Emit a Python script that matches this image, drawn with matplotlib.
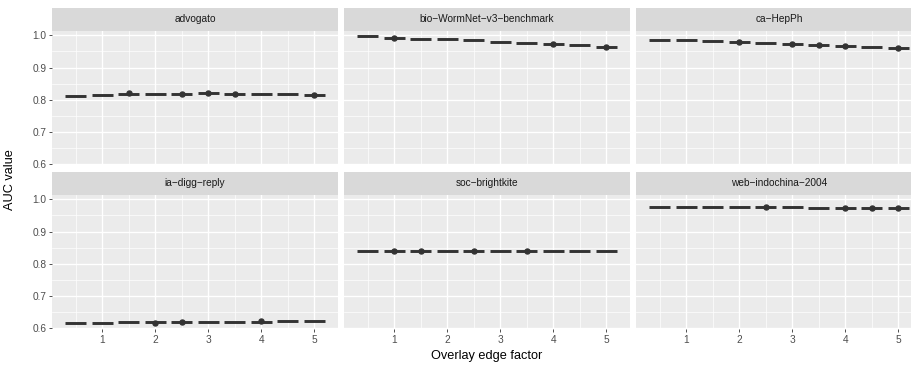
import matplotlib
matplotlib.use("Agg")
import matplotlib.pyplot as plt

plt.rcParams['font.family'] = ['Liberation Sans', 'DejaVu Sans']

# overlay edge factor positions (one box per position)
factors = [0.5, 1.0, 1.5, 2.0, 2.5, 3.0, 3.5, 4.0, 4.5, 5.0]

datasets = ['advogato', 'bio\u2212WormNet\u2212v3\u2212benchmark', 'ca\u2212HepPh',
            'ia\u2212digg\u2212reply', 'soc\u2212brightkite', 'web\u2212indochina\u22122004']

# median AUC per factor
advogato = [0.813, 0.815, 0.818, 0.818, 0.818, 0.820, 0.818, 0.818, 0.817, 0.815]
wormnet = [0.997, 0.993, 0.990, 0.987, 0.984, 0.980, 0.977, 0.974, 0.970, 0.965]
hepph = [0.986, 0.984, 0.981, 0.978, 0.976, 0.973, 0.970, 0.968, 0.965, 0.962]
digg = [0.616, 0.617, 0.618, 0.618, 0.619, 0.620, 0.620, 0.620, 0.621, 0.622]
brightkite = [0.838, 0.838, 0.839, 0.839, 0.839, 0.839, 0.839, 0.840, 0.840, 0.840]
indochina = [0.976, 0.976, 0.976, 0.976, 0.975, 0.975, 0.974, 0.973, 0.973, 0.972]
medians = [advogato, wormnet, hepph, digg, brightkite, indochina]

# outlier points (factor, AUC)
out_advogato = ([1.5, 2.5, 3.0, 3.5, 5.0], [0.820, 0.817, 0.820, 0.817, 0.814])
out_wormnet = ([1.0, 4.0, 5.0], [0.993, 0.973, 0.964])
out_hepph = ([2.0, 3.0, 3.5, 4.0, 5.0], [0.978, 0.972, 0.969, 0.967, 0.961])
out_digg = ([2.0, 2.5, 4.0], [0.617, 0.620, 0.621])
out_brightkite = ([1.0, 1.5, 2.5, 3.5], [0.838, 0.838, 0.839, 0.839])
out_indochina = ([2.5, 4.0, 4.5, 5.0], [0.975, 0.972, 0.973, 0.972])
outliers = [out_advogato, out_wormnet, out_hepph, out_digg, out_brightkite, out_indochina]

W, H = 912, 369
fig = plt.figure(figsize=(W / 100, H / 100), dpi=100)

col_x = [52, 344, 636]
pw, ph = 286, 134
row_top = [31, 195]
strip_h = 23.5

for i, name in enumerate(datasets):
    r, c = divmod(i, 3)
    x0 = col_x[c]
    y0 = row_top[r]
    ax = fig.add_axes([x0 / W, (H - y0 - ph) / H, pw / W, ph / H])
    ax.set_facecolor('#EBEBEB')
    for s in ax.spines.values():
        s.set_visible(False)
    ax.set_xlim(0.05, 5.45)
    ax.set_ylim(0.5975, 1.0133)
    ax.set_xticks([1, 2, 3, 4, 5])
    ax.set_xticks([0.5, 1.5, 2.5, 3.5, 4.5], minor=True)
    ax.set_yticks([0.6, 0.7, 0.8, 0.9, 1.0])
    ax.set_yticks([0.65, 0.75, 0.85, 0.95], minor=True)
    ax.grid(which='major', color='white', linewidth=1.0)
    ax.grid(which='minor', color='white', linewidth=0.5)
    ax.set_axisbelow(True)
    ax.tick_params(which='minor', length=0)
    ax.tick_params(which='major', length=2.5, width=0.6, color='#333333',
                   labelsize=7.3, labelcolor='#4D4D4D', pad=1.5)
    if c == 0:
        ax.set_yticklabels(['0.6', '0.7', '0.8', '0.9', '1.0'])
    else:
        ax.tick_params(axis='y', which='major', length=0, labelleft=False)
    if r == 1:
        ax.set_xticklabels(['1', '2', '3', '4', '5'])
    else:
        ax.tick_params(axis='x', which='major', length=0, labelbottom=False)

    ax.hlines(medians[i], [f - 0.2 for f in factors], [f + 0.2 for f in factors],
              color='#333333', linewidth=2.1, zorder=3)
    ox, oy = outliers[i]
    ax.plot(ox, oy, 'o', color='#333333', markersize=3.6, zorder=4)

    sax = fig.add_axes([x0 / W, (H - y0) / H, pw / W, strip_h / H])
    sax.set_facecolor('#D9D9D9')
    sax.set_xticks([])
    sax.set_yticks([])
    for s in sax.spines.values():
        s.set_visible(False)
    sax.text(0.5, 0.5, name, ha='center', va='center', fontsize=7.3,
             color='#1A1A1A', transform=sax.transAxes)

fig.text((52 + 922) / 2 / W, 1 - 356 / H, 'Overlay edge factor', ha='center',
         va='center', fontsize=9.2, color='black')
fig.text(10 / W, 1 - 180 / H, 'AUC value', ha='center', va='center',
         rotation=90, fontsize=9.2, color='black')

fig.savefig('out.png', dpi=100, facecolor='white')
